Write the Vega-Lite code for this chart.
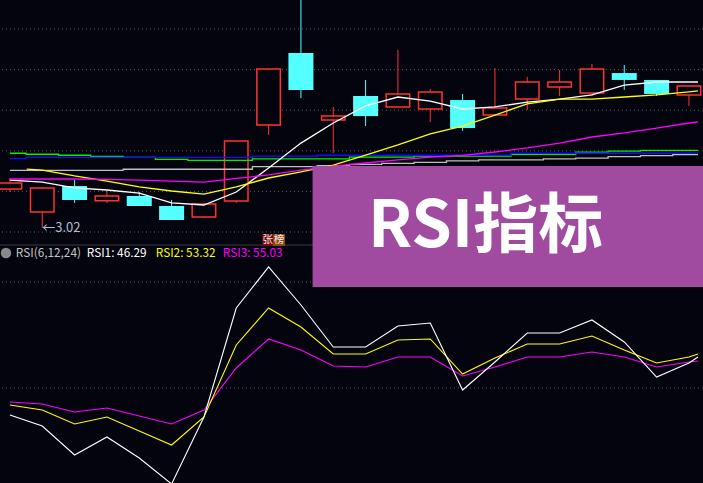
{
 "$schema": "https://vega.github.io/schema/vega-lite/v6.json",
 "width": 703, "height": 483, "padding": 0, "autosize": "none",
 "background": "#04040e",
 "config": {"view": {"stroke": null}},
 "datasets": {
  "candles": [
   {"i":0,"o":3.212,"c":3.241,"h":3.266,"l":3.197,"d":"up"},
   {"i":1,"o":3.099,"c":3.217,"h":3.222,"l":3.020,"d":"up"},
   {"i":2,"o":3.227,"c":3.158,"h":3.256,"l":3.143,"d":"down"},
   {"i":3,"o":3.154,"c":3.177,"h":3.202,"l":3.143,"d":"up"},
   {"i":4,"o":3.177,"c":3.128,"h":3.197,"l":3.128,"d":"down"},
   {"i":5,"o":3.128,"c":3.059,"h":3.158,"l":3.059,"d":"down"},
   {"i":6,"o":3.074,"c":3.138,"h":3.143,"l":3.069,"d":"up"},
   {"i":7,"o":3.153,"c":3.448,"h":3.448,"l":3.143,"d":"up"},
   {"i":8,"o":3.527,"c":3.803,"h":3.803,"l":3.478,"d":"up"},
   {"i":9,"o":3.882,"c":3.700,"h":4.18,"l":3.660,"d":"down"},
   {"i":10,"o":3.552,"c":3.571,"h":3.616,"l":3.389,"d":"up"},
   {"i":11,"o":3.670,"c":3.571,"h":3.749,"l":3.522,"d":"down"},
   {"i":12,"o":3.616,"c":3.680,"h":3.897,"l":3.616,"d":"up"},
   {"i":13,"o":3.606,"c":3.690,"h":3.704,"l":3.542,"d":"up"},
   {"i":14,"o":3.650,"c":3.512,"h":3.680,"l":3.498,"d":"down"},
   {"i":15,"o":3.576,"c":3.611,"h":3.808,"l":3.576,"d":"up"},
   {"i":16,"o":3.655,"c":3.739,"h":3.764,"l":3.601,"d":"up"},
   {"i":17,"o":3.714,"c":3.739,"h":3.798,"l":3.670,"d":"up"},
   {"i":18,"o":3.685,"c":3.803,"h":3.828,"l":3.670,"d":"up"},
   {"i":19,"o":3.783,"c":3.749,"h":3.823,"l":3.700,"d":"down"},
   {"i":20,"o":3.749,"c":3.680,"h":3.749,"l":3.670,"d":"down"},
   {"i":21,"o":3.675,"c":3.719,"h":3.724,"l":3.621,"d":"up"}
  ],
  "ma": [
   {"s":"MA5","i":0,"v":3.256},{"s":"MA5","i":1,"v":3.246},{"s":"MA5","i":2,"v":3.217},{"s":"MA5","i":3,"v":3.207},{"s":"MA5","i":4,"v":3.192},{"s":"MA5","i":5,"v":3.143},{"s":"MA5","i":6,"v":3.133},{"s":"MA5","i":7,"v":3.197},{"s":"MA5","i":8,"v":3.315},{"s":"MA5","i":9,"v":3.438},{"s":"MA5","i":10,"v":3.537},{"s":"MA5","i":11,"v":3.621},{"s":"MA5","i":12,"v":3.665},{"s":"MA5","i":13,"v":3.645},{"s":"MA5","i":14,"v":3.606},{"s":"MA5","i":15,"v":3.616},{"s":"MA5","i":16,"v":3.640},{"s":"MA5","i":17,"v":3.655},{"s":"MA5","i":18,"v":3.675},{"s":"MA5","i":19,"v":3.724},{"s":"MA5","i":20,"v":3.739},{"s":"MA5","i":21,"v":3.739},{"s":"MA5","i":21.28,"v":3.739},
   {"s":"MA10","i":0.52,"v":3.310},{"s":"MA10","i":1,"v":3.305},{"s":"MA10","i":2,"v":3.276},{"s":"MA10","i":3,"v":3.251},{"s":"MA10","i":4,"v":3.222},{"s":"MA10","i":5,"v":3.202},{"s":"MA10","i":6,"v":3.187},{"s":"MA10","i":7,"v":3.222},{"s":"MA10","i":8,"v":3.266},{"s":"MA10","i":9,"v":3.296},{"s":"MA10","i":10,"v":3.330},{"s":"MA10","i":11,"v":3.379},{"s":"MA10","i":12,"v":3.429},{"s":"MA10","i":13,"v":3.483},{"s":"MA10","i":14,"v":3.522},{"s":"MA10","i":15,"v":3.576},{"s":"MA10","i":16,"v":3.631},{"s":"MA10","i":17,"v":3.655},{"s":"MA10","i":18,"v":3.655},{"s":"MA10","i":19,"v":3.665},{"s":"MA10","i":20,"v":3.675},{"s":"MA10","i":21,"v":3.690},{"s":"MA10","i":21.28,"v":3.695},
   {"s":"MA20","i":0,"v":3.261},{"s":"MA20","i":1,"v":3.261},{"s":"MA20","i":2,"v":3.261},{"s":"MA20","i":3,"v":3.259},{"s":"MA20","i":4,"v":3.256},{"s":"MA20","i":5,"v":3.251},{"s":"MA20","i":6,"v":3.246},{"s":"MA20","i":7,"v":3.264},{"s":"MA20","i":8,"v":3.281},{"s":"MA20","i":9,"v":3.305},{"s":"MA20","i":10,"v":3.325},{"s":"MA20","i":11,"v":3.340},{"s":"MA20","i":12,"v":3.355},{"s":"MA20","i":13,"v":3.369},{"s":"MA20","i":14,"v":3.377},{"s":"MA20","i":15,"v":3.394},{"s":"MA20","i":16,"v":3.414},{"s":"MA20","i":17,"v":3.438},{"s":"MA20","i":18,"v":3.468},{"s":"MA20","i":19,"v":3.488},{"s":"MA20","i":20,"v":3.512},{"s":"MA20","i":21,"v":3.537},{"s":"MA20","i":21.28,"v":3.542},
   {"s":"MA30","i":0,"v":3.304},{"s":"MA30","i":1,"v":3.304},{"s":"MA30","i":2,"v":3.304},{"s":"MA30","i":3,"v":3.304},{"s":"MA30","i":4,"v":3.309},{"s":"MA30","i":5,"v":3.309},{"s":"MA30","i":6,"v":3.309},{"s":"MA30","i":7,"v":3.309},{"s":"MA30","i":8,"v":3.322},{"s":"MA30","i":9,"v":3.322},{"s":"MA30","i":10,"v":3.327},{"s":"MA30","i":11,"v":3.333},{"s":"MA30","i":12,"v":3.338},{"s":"MA30","i":13,"v":3.343},{"s":"MA30","i":14,"v":3.350},{"s":"MA30","i":15,"v":3.355},{"s":"MA30","i":16,"v":3.355},{"s":"MA30","i":17,"v":3.360},{"s":"MA30","i":18,"v":3.364},{"s":"MA30","i":19,"v":3.371},{"s":"MA30","i":20,"v":3.376},{"s":"MA30","i":21,"v":3.381},{"s":"MA30","i":21.28,"v":3.381},
   {"s":"MA60","i":0,"v":3.388},{"s":"MA60","i":1,"v":3.383},{"s":"MA60","i":2,"v":3.378},{"s":"MA60","i":3,"v":3.373},{"s":"MA60","i":4,"v":3.368},{"s":"MA60","i":5,"v":3.358},{"s":"MA60","i":6,"v":3.353},{"s":"MA60","i":7,"v":3.353},{"s":"MA60","i":8,"v":3.360},{"s":"MA60","i":9,"v":3.360},{"s":"MA60","i":10,"v":3.360},{"s":"MA60","i":11,"v":3.369},{"s":"MA60","i":12,"v":3.369},{"s":"MA60","i":13,"v":3.374},{"s":"MA60","i":14,"v":3.374},{"s":"MA60","i":15,"v":3.374},{"s":"MA60","i":16,"v":3.383},{"s":"MA60","i":17,"v":3.383},{"s":"MA60","i":18,"v":3.393},{"s":"MA60","i":19,"v":3.398},{"s":"MA60","i":20,"v":3.402},{"s":"MA60","i":21,"v":3.402},{"s":"MA60","i":21.28,"v":3.402},
   {"s":"MA120","i":0,"v":3.361},{"s":"MA120","i":1,"v":3.368},{"s":"MA120","i":2,"v":3.368},{"s":"MA120","i":3,"v":3.368},{"s":"MA120","i":4,"v":3.368},{"s":"MA120","i":5,"v":3.368},{"s":"MA120","i":6,"v":3.368},{"s":"MA120","i":7,"v":3.368},{"s":"MA120","i":8,"v":3.374},{"s":"MA120","i":9,"v":3.374},{"s":"MA120","i":10,"v":3.378},{"s":"MA120","i":11,"v":3.378},{"s":"MA120","i":12,"v":3.378},{"s":"MA120","i":13,"v":3.378},{"s":"MA120","i":14,"v":3.378},{"s":"MA120","i":15,"v":3.379},{"s":"MA120","i":16,"v":3.388},{"s":"MA120","i":17,"v":3.388},{"s":"MA120","i":18,"v":3.388},{"s":"MA120","i":19,"v":3.388},{"s":"MA120","i":20,"v":3.388},{"s":"MA120","i":21,"v":3.388},{"s":"MA120","i":21.28,"v":3.389}
  ],
  "rsi": [
   {"s":"RSI3","i":0,"v":46.04},{"s":"RSI3","i":1,"v":45.47},{"s":"RSI3","i":2,"v":43.21},{"s":"RSI3","i":3,"v":44.34},{"s":"RSI3","i":4,"v":42.08},{"s":"RSI3","i":5,"v":39.81},{"s":"RSI3","i":6,"v":43.77},{"s":"RSI3","i":7,"v":55.66},{"s":"RSI3","i":8,"v":63.87},{"s":"RSI3","i":9,"v":60.75},{"s":"RSI3","i":10,"v":56.23},{"s":"RSI3","i":11,"v":55.94},{"s":"RSI3","i":12,"v":58.77},{"s":"RSI3","i":13,"v":58.77},{"s":"RSI3","i":14,"v":53.40},{"s":"RSI3","i":15,"v":55.94},{"s":"RSI3","i":16,"v":58.77},{"s":"RSI3","i":17,"v":58.77},{"s":"RSI3","i":18,"v":60.19},{"s":"RSI3","i":19,"v":58.77},{"s":"RSI3","i":20,"v":55.94},{"s":"RSI3","i":21,"v":57.36},{"s":"RSI3","i":21.28,"v":57.64},
   {"s":"RSI2","i":0,"v":45.19},{"s":"RSI2","i":1,"v":43.77},{"s":"RSI2","i":2,"v":39.81},{"s":"RSI2","i":3,"v":41.79},{"s":"RSI2","i":4,"v":37.83},{"s":"RSI2","i":5,"v":33.87},{"s":"RSI2","i":6,"v":41.79},{"s":"RSI2","i":7,"v":62.17},{"s":"RSI2","i":8,"v":72.64},{"s":"RSI2","i":9,"v":67.26},{"s":"RSI2","i":10,"v":59.62},{"s":"RSI2","i":11,"v":59.62},{"s":"RSI2","i":12,"v":63.58},{"s":"RSI2","i":13,"v":63.87},{"s":"RSI2","i":14,"v":53.96},{"s":"RSI2","i":15,"v":58.49},{"s":"RSI2","i":16,"v":62.45},{"s":"RSI2","i":17,"v":62.45},{"s":"RSI2","i":18,"v":64.72},{"s":"RSI2","i":19,"v":60.75},{"s":"RSI2","i":20,"v":57.08},{"s":"RSI2","i":21,"v":58.77},{"s":"RSI2","i":21.28,"v":59.62},
   {"s":"RSI1","i":0,"v":42.36},{"s":"RSI1","i":1,"v":39.25},{"s":"RSI1","i":2,"v":31.04},{"s":"RSI1","i":3,"v":36.13},{"s":"RSI1","i":4,"v":30.19},{"s":"RSI1","i":5,"v":22.83},{"s":"RSI1","i":6,"v":41.79},{"s":"RSI1","i":7,"v":72.64},{"s":"RSI1","i":8,"v":84.25},{"s":"RSI1","i":9,"v":73.49},{"s":"RSI1","i":10,"v":61.60},{"s":"RSI1","i":11,"v":61.60},{"s":"RSI1","i":12,"v":67.55},{"s":"RSI1","i":13,"v":68.40},{"s":"RSI1","i":14,"v":49.43},{"s":"RSI1","i":15,"v":57.36},{"s":"RSI1","i":16,"v":65.57},{"s":"RSI1","i":17,"v":65.57},{"s":"RSI1","i":18,"v":69.25},{"s":"RSI1","i":19,"v":63.02},{"s":"RSI1","i":20,"v":53.11},{"s":"RSI1","i":21,"v":57.08},{"s":"RSI1","i":21.28,"v":58.77}
  ]
 },
 "layer": [
  {"data": {"values": [{"p":3.0},{"p":3.2},{"p":3.4},{"p":3.6},{"p":3.8},{"p":4.0}]},
   "mark": {"type":"rule","color":"#5a5a66","strokeWidth":1,"strokeDash":[1,3]},
   "encoding": {"y": {"field":"p","type":"quantitative","scale":{"domain":[1.76355,4.14286],"nice":false,"zero":false},"axis":null}}},
  {"data": {"values": [{"p":2.936}]},
   "mark": {"type":"rule","color":"#3c3c46","strokeWidth":1},
   "encoding": {"y": {"field":"p","type":"quantitative","scale":{"domain":[1.76355,4.14286],"nice":false,"zero":false},"axis":null}}},
  {"data": {"values": [{"v":50},{"v":80}]},
   "mark": {"type":"rule","color":"#5a5a66","strokeWidth":1,"strokeDash":[1,3]},
   "encoding": {"y": {"field":"v","type":"quantitative","scale":{"domain":[23.113,159.81],"nice":false,"zero":false},"axis":null}}},
  {"data": {"name":"candles"},
   "mark": {"type":"rule","strokeWidth":1},
   "encoding": {
    "x": {"field":"i","type":"quantitative","scale":{"domain":[-0.15244,21.2805],"nice":false,"zero":false},"axis":null},
    "y": {"field":"l","type":"quantitative","scale":{"domain":[1.76355,4.14286],"nice":false,"zero":false},"axis":null},
    "y2": {"field":"h"},
    "color": {"field":"d","type":"nominal","scale":{"domain":["up","down"],"range":["#ff3232","#54ffff"]},"legend":null}}},
  {"data": {"name":"candles"},
   "transform": [{"filter": {"field":"d","equal":"up"}}],
   "mark": {"type":"bar","size":23.5,"fill":"#04040e","stroke":"#ff3232","strokeWidth":1.5},
   "encoding": {
    "x": {"field":"i","type":"quantitative","scale":{"domain":[-0.15244,21.2805],"nice":false,"zero":false},"axis":null},
    "y": {"field":"o","type":"quantitative","scale":{"domain":[1.76355,4.14286],"nice":false,"zero":false},"axis":null},
    "y2": {"field":"c"}}},
  {"data": {"name":"candles"},
   "transform": [{"filter": {"field":"d","equal":"down"}}],
   "mark": {"type":"bar","size":25,"color":"#54ffff"},
   "encoding": {
    "x": {"field":"i","type":"quantitative","scale":{"domain":[-0.15244,21.2805],"nice":false,"zero":false},"axis":null},
    "y": {"field":"o","type":"quantitative","scale":{"domain":[1.76355,4.14286],"nice":false,"zero":false},"axis":null},
    "y2": {"field":"c"}}},
  {"data": {"name":"ma"},
   "transform": [{"filter": {"field":"s","oneOf":["MA30","MA60","MA120"]}}],
   "mark": {"type":"line","interpolate":"step","strokeWidth":1.3},
   "encoding": {
    "x": {"field":"i","type":"quantitative","scale":{"domain":[-0.15244,21.2805],"nice":false,"zero":false},"axis":null},
    "y": {"field":"v","type":"quantitative","scale":{"domain":[1.76355,4.14286],"nice":false,"zero":false},"axis":null},
    "color": {"field":"s","type":"nominal","scale":{"domain":["MA30","MA60","MA120"],"range":["#c0c0c0","#00f000","#1010ff"]},"legend":null}}},
  {"data": {"name":"ma"},
   "transform": [{"filter": {"field":"s","oneOf":["MA5","MA10","MA20"]}}],
   "mark": {"type":"line","strokeWidth":1.3},
   "encoding": {
    "x": {"field":"i","type":"quantitative","scale":{"domain":[-0.15244,21.2805],"nice":false,"zero":false},"axis":null},
    "y": {"field":"v","type":"quantitative","scale":{"domain":[1.76355,4.14286],"nice":false,"zero":false},"axis":null},
    "color": {"field":"s","type":"nominal","scale":{"domain":["MA20","MA10","MA5"],"range":["#ff00ff","#ffff00","#ffffff"]},"legend":null}}},
  {"data": {"name":"rsi"},
   "mark": {"type":"line","strokeWidth":1.1},
   "encoding": {
    "x": {"field":"i","type":"quantitative","scale":{"domain":[-0.15244,21.2805],"nice":false,"zero":false},"axis":null},
    "y": {"field":"v","type":"quantitative","scale":{"domain":[23.113,159.81],"nice":false,"zero":false},"axis":null},
    "color": {"field":"s","type":"nominal","scale":{"domain":["RSI3","RSI2","RSI1"],"range":["#ff00ff","#ffff00","#ffffff"]},"legend":null}}},
  {"data": {"values": [{"i":1.0,"p":3.02,"t":"←3.02"},{"i":9.39,"p":4.18,"t":"4.18"}]},
   "mark": {"type":"text","align":"left","baseline":"middle","font":"Noto Sans CJK SC","fontSize":13,"color":"#b4bcd6"},
   "encoding": {
    "x": {"field":"i","type":"quantitative","scale":{"domain":[-0.15244,21.2805],"nice":false,"zero":false},"axis":null},
    "y": {"field":"p","type":"quantitative","scale":{"domain":[1.76355,4.14286],"nice":false,"zero":false},"axis":null},
    "text": {"field":"t"}}},
  {"data": {"values": [{"i":7.805,"i2":8.14,"p":2.990,"p2":2.931,"k":"a"},{"i":8.14,"i2":8.506,"p":2.990,"p2":2.931,"k":"b"}]},
   "mark": {"type":"rect"},
   "encoding": {
    "x": {"field":"i","type":"quantitative","scale":{"domain":[-0.15244,21.2805],"nice":false,"zero":false},"axis":null},
    "x2": {"field":"i2"},
    "y": {"field":"p","type":"quantitative","scale":{"domain":[1.76355,4.14286],"nice":false,"zero":false},"axis":null},
    "y2": {"field":"p2"},
    "color": {"field":"k","type":"nominal","scale":{"domain":["a","b"],"range":["#7a0a0a","#8c4a12"]},"legend":null}}},
  {"data": {"values": [{"i":7.973,"p":2.9606,"t":"张"},{"i":8.323,"p":2.9606,"t":"榜"}]},
   "mark": {"type":"text","align":"center","baseline":"middle","font":"Noto Sans CJK SC","fontSize":10.5,"color":"#f4e8e8"},
   "encoding": {
    "x": {"field":"i","type":"quantitative","scale":{"domain":[-0.15244,21.2805],"nice":false,"zero":false},"axis":null},
    "y": {"field":"p","type":"quantitative","scale":{"domain":[1.76355,4.14286],"nice":false,"zero":false},"axis":null},
    "text": {"field":"t"}}},
  {"data": {"values": [{"i":-0.122,"v":88.21}]},
   "mark": {"type":"point","filled":true,"size":110,"color":"#8a8a8a","opacity":1},
   "encoding": {
    "x": {"field":"i","type":"quantitative","scale":{"domain":[-0.15244,21.2805],"nice":false,"zero":false},"axis":null},
    "y": {"field":"v","type":"quantitative","scale":{"domain":[23.113,159.81],"nice":false,"zero":false},"axis":null}}},
  {"data": {"values": [{"i":0.183,"v":88.21,"t":"RSI(6,12,24)","k":"h"},{"i":2.378,"v":88.21,"t":"RSI1: 46.29","k":"r1"},{"i":4.512,"v":88.21,"t":"RSI2: 53.32","k":"r2"},{"i":6.585,"v":88.21,"t":"RSI3: 55.03","k":"r3"}]},
   "mark": {"type":"text","align":"left","baseline":"middle","font":"Noto Sans CJK SC","fontSize":11.8},
   "encoding": {
    "x": {"field":"i","type":"quantitative","scale":{"domain":[-0.15244,21.2805],"nice":false,"zero":false},"axis":null},
    "y": {"field":"v","type":"quantitative","scale":{"domain":[23.113,159.81],"nice":false,"zero":false},"axis":null},
    "text": {"field":"t"},
    "color": {"field":"k","type":"nominal","scale":{"domain":["h","r1","r2","r3"],"range":["#c4c4c4","#ffffff","#ffff00","#ff00ff"]},"legend":null}}},
  {"data": {"values": [{"i":9.36,"i2":21.5,"v":112.83,"v2":78.58}]},
   "mark": {"type":"rect","color":"#a04ba0","opacity":1},
   "encoding": {
    "x": {"field":"i","type":"quantitative","scale":{"domain":[-0.15244,21.2805],"nice":false,"zero":false},"axis":null},
    "x2": {"field":"i2"},
    "y": {"field":"v","type":"quantitative","scale":{"domain":[23.113,159.81],"nice":false,"zero":false},"axis":null},
    "y2": {"field":"v2"}}},
  {"data": {"values": [{"i":14.71,"v":89.91,"t":"RSI指标"}]},
   "mark": {"type":"text","align":"center","baseline":"alphabetic","font":"Noto Sans CJK SC","fontWeight":"bold","fontSize":65,"color":"#ffffff"},
   "encoding": {
    "x": {"field":"i","type":"quantitative","scale":{"domain":[-0.15244,21.2805],"nice":false,"zero":false},"axis":null},
    "y": {"field":"v","type":"quantitative","scale":{"domain":[23.113,159.81],"nice":false,"zero":false},"axis":null},
    "text": {"field":"t"}}}
 ],
 "resolve": {"scale": {"y": "independent", "color": "independent"}}
}
